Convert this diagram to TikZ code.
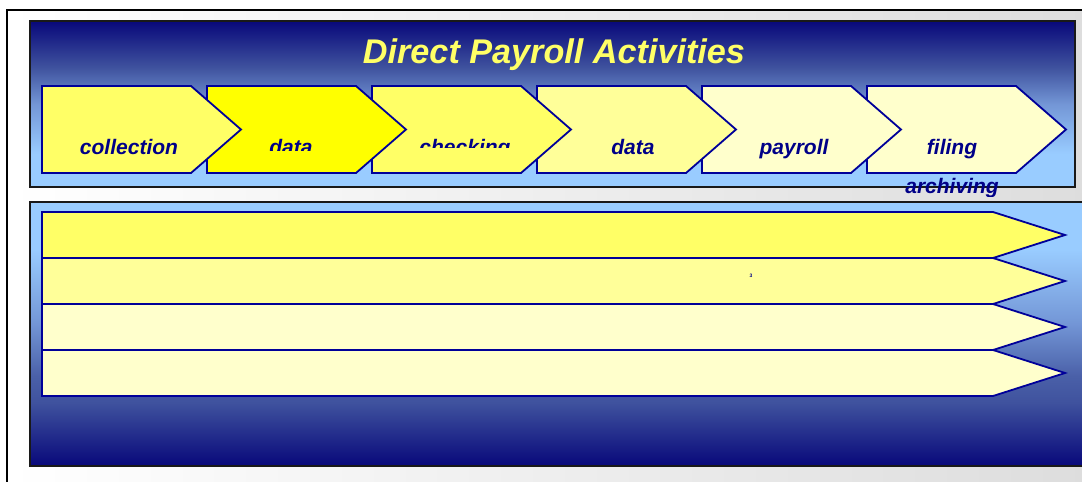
\documentclass[tikz,border=0pt]{standalone}
\usepackage{fontspec}
\setmainfont{Liberation Sans}

\definecolor{navyline}{HTML}{000099}
\definecolor{navytext}{HTML}{000088}
\definecolor{deepblue}{HTML}{08087A}
\definecolor{midblue}{HTML}{3F529E}
\definecolor{steelblue}{HTML}{4A60A8}
\definecolor{softblue}{HTML}{7396D6}
\definecolor{skyblue}{HTML}{99CCFF}
\definecolor{lemon}{HTML}{FFFF66}
\definecolor{brightyellow}{HTML}{FFFF00}
\definecolor{paleyellow}{HTML}{FFFF99}
\definecolor{creamyellow}{HTML}{FFFFCC}
\definecolor{framegray}{HTML}{DDDDDD}

% dark at the top, sky blue at the bottom
\pgfdeclareverticalshading{headershade}{100bp}{%
  color(0bp)=(skyblue); color(25bp)=(skyblue); color(35bp)=(skyblue);
  color(50bp)=(softblue); color(61bp)=(midblue); color(75bp)=(deepblue);
  color(100bp)=(deepblue)}
% sky blue at the top, dark at the bottom
\pgfdeclareverticalshading{laneshade}{100bp}{%
  color(0bp)=(deepblue); color(25bp)=(deepblue); color(37bp)=(midblue);
  color(42bp)=(steelblue); color(52bp)=(softblue); color(66bp)=(skyblue);
  color(75bp)=(skyblue); color(100bp)=(skyblue)}

\tikzset{
  panel/.style={draw=black!90, line width=1.6pt},
  stepshape/.style={draw=navyline, line width=1.8pt, line join=miter},
  lane/.style={draw=navyline, line width=1.8pt, line join=miter},
  steplabel/.style={text=navytext, anchor=base, inner sep=0pt,
    font=\fontsize{21}{24}\selectfont\bfseries\itshape},
  titletext/.style={text=lemon, anchor=base, inner sep=0pt,
    font=\fontsize{34.2}{40}\selectfont\bfseries\itshape},
}

\begin{document}
\begin{tikzpicture}[x=1pt,y=-1pt]
  \useasboundingbox (0,0) rectangle (1082,482);
  \clip (0,0) rectangle (1082,482);
  \fill[white] (0,0) rectangle (1082,482);

  % outer frame
  \path[left color=white, right color=framegray] (7,10) rectangle (1090,495);
  \draw[black, line width=1.5pt] (1095,10) -- (7,10) -- (7,495);

  % header panel
  \path[shading=headershade] (30,21) rectangle (1075,187);
  \draw[panel] (30,21) rectangle (1075,187);
  \node[titletext] (title) at (554,63) {Direct Payroll Activities};

  % activity chevrons, last one first so each one overlaps the next
  \foreach \x/\col in {867/creamyellow, 702/creamyellow, 537/paleyellow,
                       372/lemon, 207/brightyellow, 42/lemon}{
    \draw[stepshape, fill=\col] (\x,86) -- ++(149,0) -- ++(50,43.5)
      -- ++(-50,43.5) -- ++(-149,0) -- cycle;
  }

  \node[steplabel] (collection) at (129,154) {collection};
  \begin{scope}
    \clip (200,60) rectangle (420,150.5);
    \node[steplabel] (datain) at (291,154) {data};
  \end{scope}
  \begin{scope}
    \clip (370,60) rectangle (560,147);
    \node[steplabel] (checking) at (465,154) {checking};
  \end{scope}
  \node[steplabel] (dataout) at (633,154) {data};
  \node[steplabel] (payroll) at (794,154) {payroll};
  \node[steplabel] (filing) at (952,154) {filing};
  \begin{scope}
    \clip (880,170) rectangle (1030,196);
    \node[steplabel] (archiving) at (952,193) {archiving};
  \end{scope}

  % lanes panel
  \path[shading=laneshade] (30,202) rectangle (1100,466);
  \draw[panel] (1100,202) -- (30,202) -- (30,466) -- (1100,466);

  \foreach \y/\col in {212/lemon, 258/paleyellow, 304/creamyellow, 350/creamyellow}{
    \draw[lane, fill=\col] (42,\y) -- (993,\y) -- (1065,\y+23)
      -- (993,\y+46) -- (42,\y+46) -- cycle;
  }
  \node[text=navytext, inner sep=0pt, font=\fontsize{5}{5}\selectfont\bfseries] (mark) at (751,276) {3};
\end{tikzpicture}
\end{document}
